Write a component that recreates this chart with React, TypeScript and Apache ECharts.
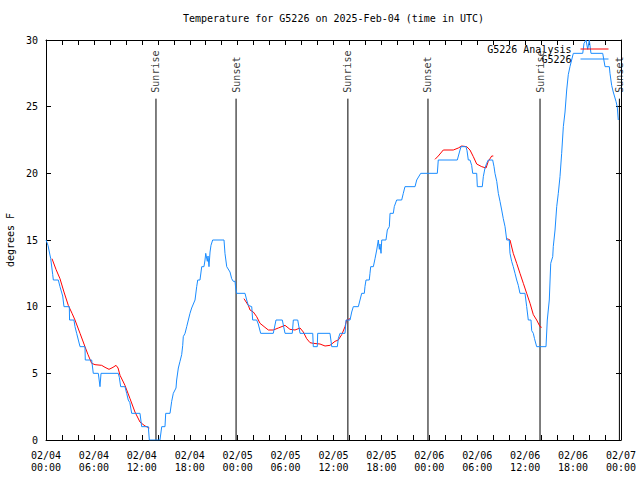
import React, { useEffect, useRef } from "react";
import * as echarts from "echarts";

// hours since 2025-02-04 00:00 UTC
const obsHours = [
  0, 0.25, 0.59, 0.84, 0.92, 1.54, 1.75, 2.09, 2.25, 2.92, 2.95, 3.5, 3.63, 3.84, 4.26, 4.88, 4.92, 5.72, 5.92, 6.55,
  6.76, 6.89, 9.05, 9.18, 9.35, 9.89, 10.1, 10.3, 10.5, 10.73, 11.77, 11.98, 12.81, 12.94, 14.27, 14.49, 14.9, 14.99,
  15.53, 15.74, 15.94, 16.28, 16.36, 16.57, 16.78, 16.99, 17.12, 17.19, 17.41, 17.62, 18.03, 18.24, 18.66, 18.87,
  19.0, 19.28, 19.5, 19.78, 19.91, 20.0, 20.2, 20.29, 20.41, 20.54, 20.66, 20.87, 22.29, 22.41, 22.63, 23.04, 23.25,
  23.45, 23.67, 23.75, 23.88, 24.92, 25.13, 25.33, 25.76, 25.88, 26.38, 26.58, 26.88, 28.46, 28.8, 29.59, 29.93,
  30.84, 30.97, 31.52, 31.81, 33.4, 33.47, 33.97, 34.02, 35.56, 35.78, 36.48, 36.6, 36.81, 37.44, 37.57, 38.07,
  38.28, 38.48, 39.11, 39.32, 39.53, 39.86, 39.94, 40.07, 40.48, 40.57, 40.66, 40.99, 41.2, 41.41, 41.61, 41.74,
  41.82, 41.95, 42.04, 42.57, 42.74, 42.99, 43.08, 43.49, 43.61, 43.91, 44.54, 44.74, 44.95, 46.21, 46.42, 46.92,
  49.0, 49.12, 51.5, 51.84, 51.97, 52.59, 52.72, 52.88, 53.09, 53.3, 53.43, 53.93, 54.01, 54.63, 54.76, 54.97,
  55.18, 55.38, 55.93, 56.1, 56.22, 56.44, 56.64, 56.85, 57.06, 57.26, 57.48, 57.69, 58.01, 58.1, 58.31, 58.51,
  58.73, 58.94, 59.14, 59.35, 59.98, 60.19, 60.39, 60.73, 60.82, 61.02, 61.17, 61.44, 62.61, 62.77, 63.02, 63.2,
  63.45, 63.52, 63.74, 63.95, 64.15, 64.36, 64.57, 64.78, 64.99, 65.2, 65.4, 65.61, 66.03, 67.21, 67.37, 67.62,
  67.83, 68.03, 68.24, 69.71, 70.0, 70.54, 70.62, 70.83, 71.03, 71.37, 71.53, 71.66,
];
const obsTemps = [
  15, 14.6, 13.6, 12.4, 12, 12, 11.5, 10.8, 10, 10, 9, 9, 8.5, 8, 7, 7, 6, 6, 5, 5,
  4, 5, 5, 4.7, 4, 4, 3.5, 3, 2.8, 2, 2, 1, 1, 0, 0, 1, 1, 2,
  2, 2.9, 3.5, 3.9, 4.5, 5.4, 5.9, 6.4, 7.1, 7.75, 8, 8.5, 9.5, 9.9, 10.5, 11.5,
  12, 12, 13, 13, 13.5, 14, 13.4, 13.8, 13, 14.1, 14.6, 15, 15, 14, 13, 12.6, 12.1,
  11.9, 11.9, 11.4, 11, 11, 10.5, 10.1, 10, 9, 9, 8.7, 8, 8, 9, 9, 8,
  8, 9, 9, 8, 8, 7, 7, 8, 8, 7, 7, 7.6, 8, 8, 9, 9,
  9.6, 10, 10, 10.5, 11, 11, 11.5, 12, 12, 12.5, 13, 13, 13.6, 14.25, 15, 14.3,
  14.7, 14, 15, 15, 15.75, 16, 17, 17, 17.5, 18, 18, 18.5, 19, 19, 19.5, 20,
  20, 21, 21, 21.75, 22, 22, 21.7, 21, 21, 20.6, 20, 20, 19, 19, 19.75, 20.4,
  20.75, 21, 21, 20.5, 20, 19.4, 18.5, 17.9, 17.25, 16.6, 16, 15, 15, 14, 13.4, 13,
  12.5, 12, 11.6, 11, 11, 10, 9, 9, 8.2, 8, 7.6, 7, 7, 9, 10.5, 13.25,
  13.75, 14.5, 15.75, 17.5, 18.5, 19.75, 21.5, 23.5, 24.6, 26.25, 27.4, 28, 29, 29, 29.75, 30,
  29.3, 30, 29, 29, 28, 28, 27.5, 26.6, 26.1, 25.4, 25, 24,
];

// analysis (null = gap)
const anaHours = [
  0.75, 1.25, 1.75, 2.25, 2.79, 3.26, 3.63, 4.26, 4.88, 5.26, 5.72, 6.14, 6.97, 7.39, 7.89, 8.39, 8.77, 9.02, 9.27,
  9.89, 10.52, 11.14, 11.77, 12.4, 12.94, 18,
  24.79, 25.33, 25.55, 25.96, 26.38, 26.8, 27.42, 27.84, 28.46, 29.09, 29.93, 30.55, 31.18, 31.81, 32.22, 32.64,
  33.06, 33.47, 34.31, 34.94, 35.56, 36.19, 36.6, 37.03, 37.44, 37.65, 38.07, 43,
  48.71, 49.12, 49.75, 51.0, 51.63, 52.05, 52.68, 53.09, 53.51, 53.93, 54.56, 55.1, 55.38, 55.81, 56.01, 57,
  57.76, 58.1, 58.51, 58.94, 59.35, 59.77, 60.19, 60.61, 61.02, 61.44, 61.86, 62.07,
];
const anaTemps = [
  13.6, 12.8, 12.1, 11.1, 10.1, 9.5, 9.0, 8.0, 7.0, 6.4, 5.75, 5.65, 5.6, 5.45, 5.3, 5.45, 5.6, 5.4, 4.85,
  4.1, 3.1, 2.1, 1.35, 1.05, 0.9, null,
  10.6, 10.1, 9.75, 9.6, 9.25, 8.75, 8.45, 8.25, 8.25, 8.4, 8.6, 8.3, 8.25, 8.4, 8.1, 7.6,
  7.3, 7.25, 7.2, 7.05, 7.1, 7.4, 7.5, 7.9, 8.5, 9.0, 9.1, null,
  21.05, 21.3, 21.75, 21.75, 21.9, 22.05, 22.0, 21.75, 21.25, 20.7, 20.5, 20.4, 20.9, 21.3, 21.3, null,
  15.1, 15.0, 14.0, 13.25, 12.5, 11.75, 11.0, 10.25, 9.4, 9.0, 8.5, 8.45,
];

const sunHours = [13.77, 23.8, 37.8, 47.83, 61.86, 71.8];
const sunNames = ["Sunrise", "Sunset", "Sunrise", "Sunset", "Sunrise", "Sunset"];
const sunLineTop = 25.6;

const xTickLabels = [
  "02/04\n00:00", "02/04\n06:00", "02/04\n12:00", "02/04\n18:00",
  "02/05\n00:00", "02/05\n06:00", "02/05\n12:00", "02/05\n18:00",
  "02/06\n00:00", "02/06\n06:00", "02/06\n12:00", "02/06\n18:00",
  "02/07\n00:00",
];
const yTicks = [0, 5, 10, 15, 20, 25, 30];

const FONT = "'DejaVu Sans Mono', 'Liberation Mono', monospace";

export default function App() {
  const ref = useRef<HTMLDivElement>(null);
  useEffect(() => {
    if (!ref.current) return;
    const chart = echarts.init(ref.current, null, { renderer: "svg" });
    const obsData = obsHours.map((h, i) => [h, obsTemps[i]]);
    const anaData = anaHours.map((h, i) => [h, anaTemps[i] == null ? "-" : anaTemps[i]]);
    const sunLineData: any[] = [];
    sunHours.forEach((h) => {
      sunLineData.push([h, 0], [h, sunLineTop], [h, "-"]);
    });
    const sunLabelData = sunHours.map((h, i) => ({ value: [h, sunLineTop], name: sunNames[i] }));
    const tickStyle = { color: "#000", width: 1 };
    chart.setOption({
      animation: false,
      backgroundColor: "#fff",
      textStyle: { fontFamily: FONT },
      title: {
        text: "Temperature for G5226 on 2025-Feb-04 (time in UTC)",
        left: 183,
        top: 13,
        padding: 0,
        textStyle: { fontFamily: FONT, fontSize: 10, fontWeight: "normal", color: "#000" },
      },
      legend: {
        orient: "vertical",
        align: "right",
        right: 31,
        top: 44,
        padding: 0,
        itemGap: 0,
        itemWidth: 28,
        itemHeight: 12,
        data: ["G5226 Analysis", "G5226"],
        itemStyle: { color: "rgba(0,0,0,0)", borderWidth: 0, opacity: 0 },
        lineStyle: { width: 1 },
        textStyle: { fontFamily: FONT, fontSize: 10, color: "#000", padding: [0, 4, 0, 0] },
      },
      grid: {
        left: 46,
        right: 19,
        top: 40,
        bottom: 40,
        containLabel: false,
        outerBoundsMode: "none",
      },
      xAxis: [
        {
          type: "value",
          min: 0,
          max: 72,
          interval: 6,
          axisLine: { show: true, onZero: false, lineStyle: tickStyle },
          axisTick: { show: true, inside: true, length: 5, lineStyle: tickStyle },
          minorTick: { show: true, splitNumber: 3, length: 5, lineStyle: tickStyle },
          splitLine: { show: false },
          axisLabel: {
            fontFamily: FONT,
            fontSize: 10,
            color: "#000",
            lineHeight: 12,
            margin: 9,
            formatter: (v: number) => xTickLabels[Math.round(v / 6)] ?? "",
          },
        },
        {
          type: "value",
          position: "top",
          min: 0,
          max: 72,
          interval: 6,
          axisLine: { show: true, onZero: false, lineStyle: tickStyle },
          axisTick: { show: true, inside: true, length: 5, lineStyle: tickStyle },
          minorTick: { show: true, splitNumber: 3, length: 5, lineStyle: tickStyle },
          splitLine: { show: false },
          axisLabel: { show: false },
        },
      ],
      yAxis: [
        {
          type: "value",
          min: 0,
          max: 30,
          interval: 5,
          name: "degrees F",
          nameLocation: "middle",
          nameGap: 26,
          nameTextStyle: { fontFamily: FONT, fontSize: 10, color: "#000" },
          axisLine: { show: true, onZero: false, lineStyle: tickStyle },
          axisTick: { show: true, inside: true, length: 5, lineStyle: tickStyle },
          splitLine: { show: false },
          axisLabel: {
            fontFamily: FONT,
            fontSize: 10,
            color: "#000",
            margin: 8,
            formatter: (v: number) => (yTicks.indexOf(v) >= 0 ? String(v) : ""),
          },
        },
        {
          type: "value",
          position: "right",
          min: 0,
          max: 30,
          interval: 5,
          axisLine: { show: true, onZero: false, lineStyle: tickStyle },
          axisTick: { show: true, inside: true, length: 5, lineStyle: tickStyle },
          splitLine: { show: false },
          axisLabel: { show: false },
        },
      ],
      series: [
        {
          name: "sun",
          type: "line",
          data: sunLineData,
          symbol: "none",
          silent: true,
          lineStyle: { color: "#000", width: 1 },
          connectNulls: false,
          z: 1,
        },
        {
          name: "sunlabels",
          type: "scatter",
          data: sunLabelData,
          symbolSize: 0,
          silent: true,
          label: {
            show: true,
            formatter: (p: any) => p.name,
            position: [0, -6],
            rotate: 90,
            align: "left",
            verticalAlign: "middle",
            fontFamily: FONT,
            fontSize: 10,
            color: "#000",
          },
          z: 1,
        },
        {
          name: "G5226 Analysis",
          type: "line",
          data: anaData,
          symbol: "none",
          connectNulls: false,
          lineStyle: { color: "#ff0000", width: 1 },
          itemStyle: { color: "#ff0000" },
          z: 2,
        },
        {
          name: "G5226",
          type: "line",
          data: obsData,
          symbol: "none",
          lineStyle: { color: "#1a8cff", width: 1 },
          itemStyle: { color: "#1a8cff" },
          z: 3,
        },
      ],
    });
    return () => chart.dispose();
  }, []);
  return (
    <div
      ref={ref}
      style={{ position: "fixed", left: 0, top: 0, width: 640, height: 480, background: "#fff" }}
    />
  );
}
